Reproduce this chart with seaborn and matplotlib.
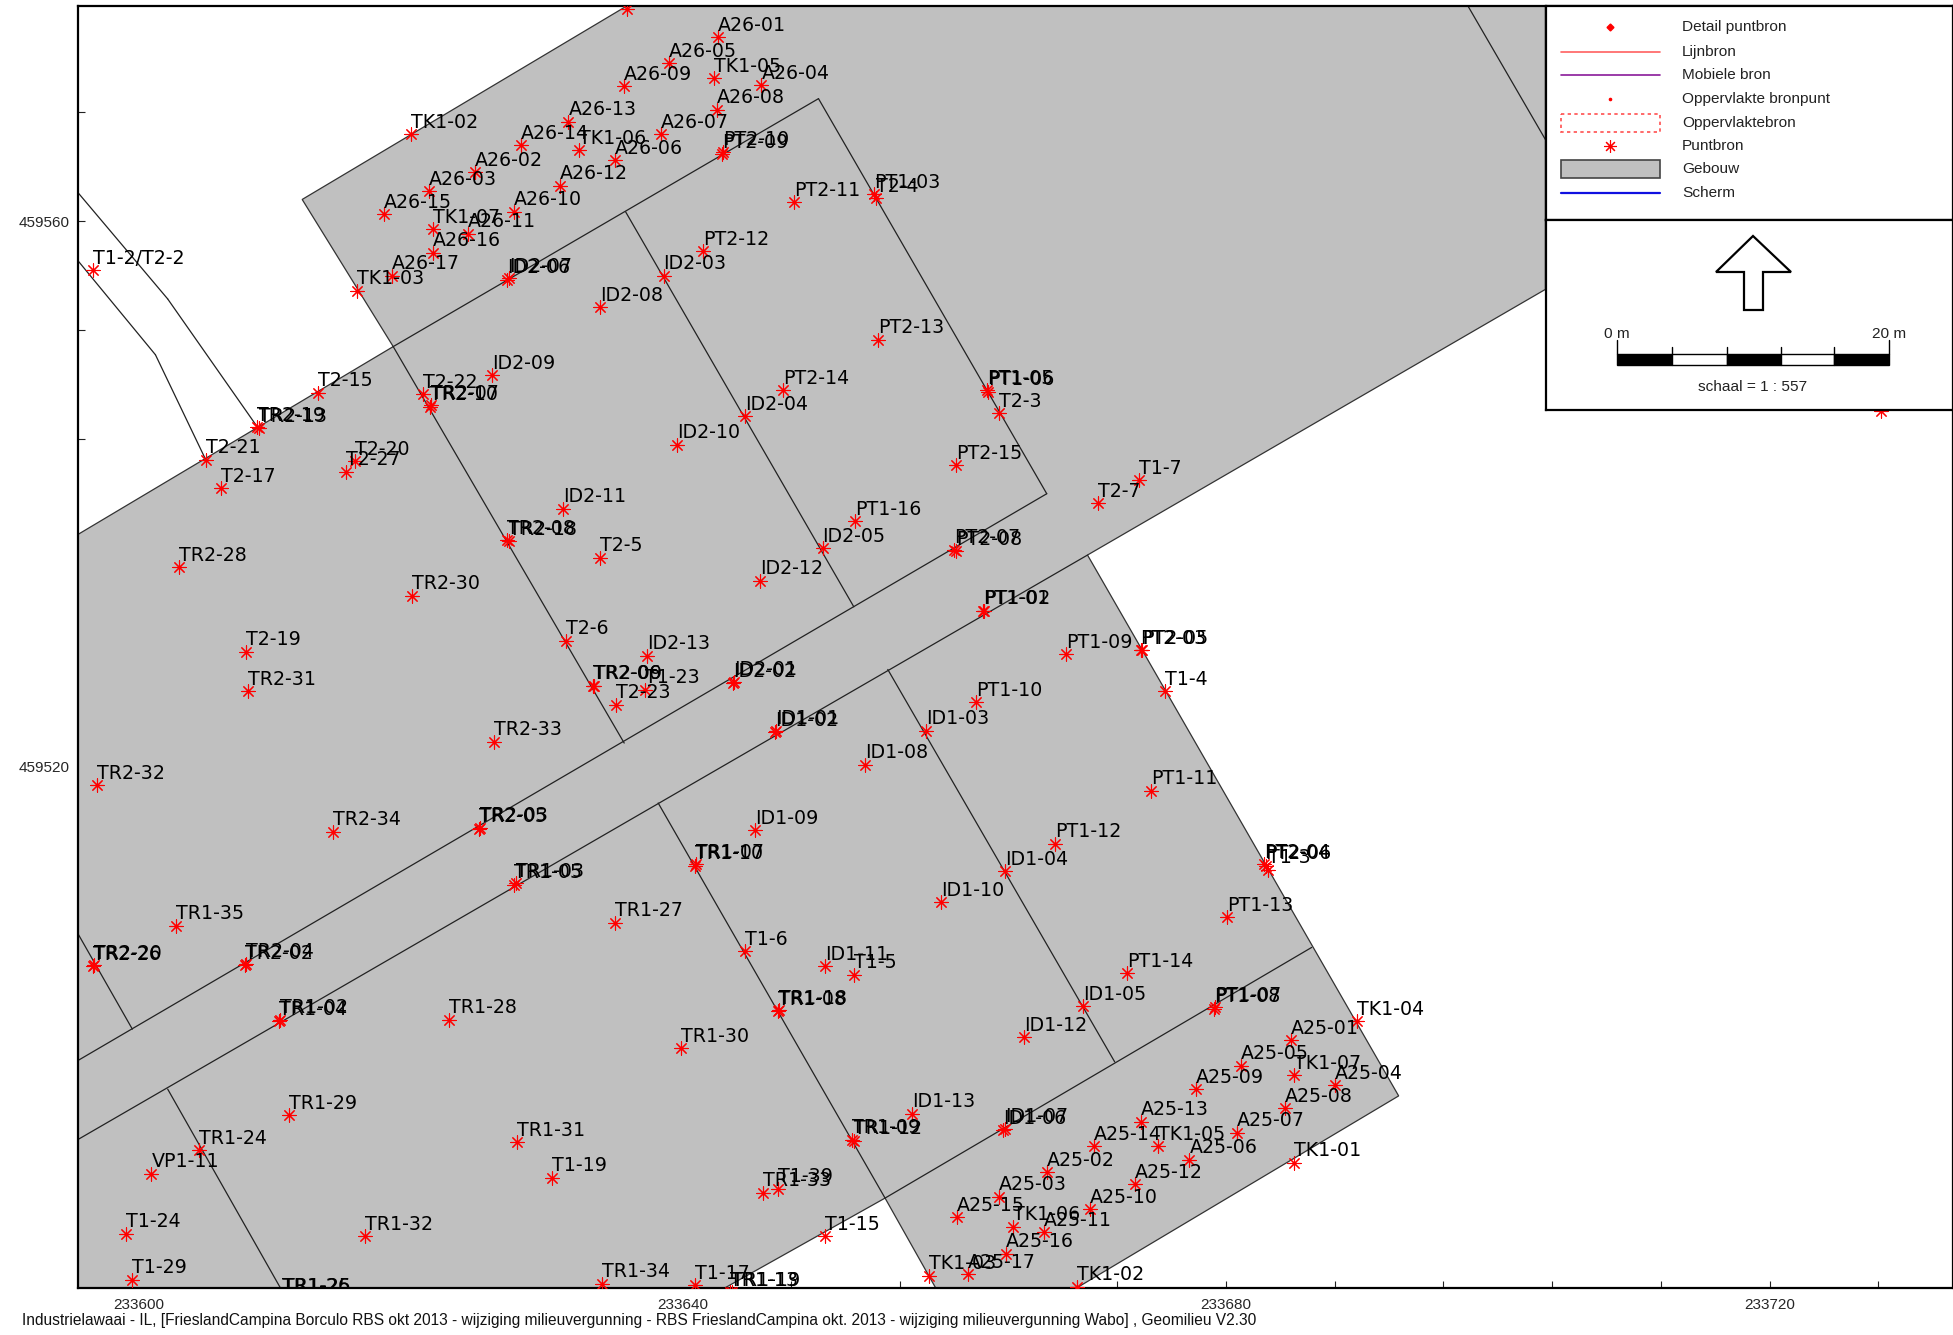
"""Geomilieu style map of the noise sources around the FrieslandCampina buildings."""
import matplotlib
matplotlib.use("Agg")
import matplotlib.pyplot as plt
import pandas as pd
import seaborn as sns
from matplotlib.patches import Polygon, Rectangle

FOOTER = ("Industrielawaai - IL, [FrieslandCampina Borculo RBS okt 2013 - wijziging milieuvergunning - "
          "RBS FrieslandCampina okt. 2013 - wijziging milieuvergunning Wabo] , Geomilieu V2.30")

# source names and map coordinates (m)
a26_names = ["A26-01", "A26-05", "TK1-05", "A26-04", "A26-09", "A26-08", "A26-13", "A26-07", "A26-14", "TK1-06",
             "A26-06", "A26-02", "A26-12", "A26-03", "A26-10", "A26-15", "A26-11", "TK1-07", "A26-16", "A26-17",
             "TK1-03", "TK1-02", "TK1-04"]
a26_x = [233642.6, 233639.0, 233642.3, 233645.8, 233635.7, 233642.5, 233631.6, 233638.4, 233628.1, 233632.4,
         233635.0, 233624.7, 233631.0, 233621.3, 233627.6, 233618.0, 233624.2, 233621.6, 233621.6, 233618.6,
         233616.0, 233620.0, 233635.9]
a26_y = [459573.5, 459571.6, 459570.5, 459570.0, 459569.9, 459568.2, 459567.3, 459566.4, 459565.6, 459565.2,
         459564.5, 459563.6, 459562.6, 459562.2, 459560.7, 459560.5, 459559.1, 459559.4, 459557.7, 459556.0,
         459554.9, 459566.4, 459575.6]

north_names = ["PT2-10", "PT2-09", "PT1-03", "T2-4", "PT2-11", "PT2-12", "ID2-03", "ID2-06", "ID2-07", "ID2-08",
               "PT2-13", "ID2-09", "T2-15", "PT1-05", "PT1-06", "PT2-14", "T2-22", "TR2-10", "TR2-07", "T2-3",
               "ID2-04", "TR2-19", "TR2-13", "ID2-10", "T2-21", "PT2-15", "T2-20", "T2-27", "T2-17", "T1-7",
               "T2-7", "ID2-11", "PT1-16", "TR2-08", "TR2-18", "ID2-05", "PT2-07", "PT2-08", "T2-5", "TR2-28",
               "ID2-12", "TR2-30", "PT1-01", "PT1-02", "T2-6", "T2-19", "PT1-09", "PT2-03", "PT2-05", "ID2-13",
               "TR2-31", "T1-4", "TR2-06", "TR2-09", "T1-23", "T2-23", "ID2-02", "ID2-01", "PT1-10", "T1-2/T2-2",
               "TR2-33", "TR2-32", "TR2-05", "TR2-03", "TR2-34", "TR1-35", "TR2-26", "TR2-20", "TR2-02", "TR2-04"]
north_x = [233643.0, 233642.9, 233654.1, 233654.2, 233648.2, 233641.5, 233638.6, 233627.1, 233627.2, 233633.9,
           233654.4, 233626.0, 233613.2, 233662.4, 233662.5, 233647.4, 233620.9, 233621.4, 233621.5, 233663.3,
           233644.6, 233608.7, 233608.8, 233639.6, 233604.9, 233660.1, 233615.9, 233615.2, 233606.0, 233673.6,
           233670.6, 233631.2, 233652.7, 233627.1, 233627.2, 233650.3, 233660.0, 233660.1, 233633.9, 233602.9,
           233645.7, 233620.1, 233662.1, 233662.2, 233631.4, 233607.9, 233668.2, 233673.7, 233673.8, 233637.4,
           233608.0, 233675.5, 233633.4, 233633.5, 233637.2, 233635.1, 233643.7, 233643.8, 233661.6, 233596.6,
           233626.1, 233596.9, 233625.0, 233625.1, 233614.3, 233602.7, 233596.6, 233596.7, 233607.8, 233607.9]
north_y = [459565.1, 459564.9, 459562.0, 459561.7, 459561.4, 459557.8, 459556.0, 459555.7, 459555.8, 459553.7,
           459551.3, 459548.7, 459547.4, 459547.6, 459547.5, 459547.6, 459547.3, 459546.4, 459546.5, 459545.9,
           459545.7, 459544.9, 459544.8, 459543.6, 459542.5, 459542.1, 459542.4, 459541.6, 459540.4, 459541.0,
           459539.3, 459538.9, 459538.0, 459536.6, 459536.5, 459536.0, 459535.9, 459535.8, 459535.3, 459534.6,
           459533.6, 459532.5, 459531.4, 459531.4, 459529.2, 459528.4, 459528.2, 459528.5, 459528.5, 459528.1,
           459525.5, 459525.5, 459525.9, 459525.9, 459525.6, 459524.5, 459526.1, 459526.2, 459524.7, 459556.4,
           459521.8, 459518.6, 459515.4, 459515.5, 459515.2, 459508.3, 459505.3, 459505.4, 459505.4, 459505.5]

south_names = ["ID1-03", "ID1-02", "ID1-01", "ID1-08", "PT1-11", "ID1-09", "PT1-12", "TR1-10", "TR1-07", "PT2-04",
               "PT2-06", "T1-3", "ID1-04", "TR1-05", "TR1-03", "ID1-10", "PT1-13", "TR1-27", "T1-6", "ID1-11",
               "T1-5", "PT1-14", "ID1-05", "PT1-08", "PT1-07", "TR1-08", "TR1-18", "TK1-04", "TR1-28", "TR1-04",
               "TR1-02", "ID1-12", "TR1-30", "ID1-13", "TR1-29", "ID1-06", "ID1-07", "TR1-09", "TR1-12", "TR1-31",
               "TR1-24", "VP1-11", "T1-19", "T1-39", "TR1-33", "T1-24", "TR1-32", "T1-15", "T1-29", "TR1-34",
               "T1-17", "TR1-13", "TR1-19", "TR1-26", "TR1-25"]
south_x = [233657.9, 233646.8, 233646.9, 233653.4, 233674.5, 233645.3, 233667.4, 233640.9, 233641.0, 233682.8,
           233682.9, 233683.1, 233663.7, 233627.6, 233627.7, 233659.0, 233680.1, 233635.0, 233644.6, 233650.5,
           233652.6, 233672.7, 233669.5, 233679.1, 233679.2, 233647.0, 233647.1, 233689.6, 233622.8, 233610.3,
           233610.4, 233665.1, 233639.9, 233656.9, 233611.0, 233663.6, 233663.7, 233652.5, 233652.6, 233627.8,
           233604.4, 233600.9, 233630.4, 233647.0, 233645.9, 233599.0, 233616.6, 233650.5, 233599.5, 233634.1,
           233640.9, 233643.5, 233643.6, 233610.5, 233610.6]
south_y = [459522.6, 459522.5, 459522.6, 459520.1, 459518.2, 459515.3, 459514.3, 459512.7, 459512.8, 459512.8,
           459512.7, 459512.4, 459512.3, 459511.3, 459511.4, 459510.0, 459508.9, 459508.5, 459506.4, 459505.3,
           459504.7, 459504.8, 459502.4, 459502.2, 459502.3, 459502.0, 459502.1, 459501.3, 459501.4, 459501.3,
           459501.4, 459500.1, 459499.3, 459494.5, 459494.4, 459493.3, 459493.4, 459492.6, 459492.5, 459492.4,
           459491.8, 459490.1, 459489.8, 459489.0, 459488.7, 459485.7, 459485.5, 459485.5, 459482.3, 459482.0,
           459481.9, 459481.4, 459481.4, 459480.9, 459480.9]

a25_names = ["A25-01", "A25-05", "TK1-07", "A25-04", "A25-09", "A25-08", "A25-13", "A25-07", "A25-14", "TK1-05",
             "A25-06", "TK1-01", "A25-02", "A25-12", "A25-03", "A25-10", "A25-15", "TK1-06", "A25-11", "A25-16",
             "TK1-03", "A25-17", "TK1-02", ""]
a25_x = [233684.8, 233681.1, 233685.0, 233688.0, 233677.8, 233684.3, 233673.7, 233680.8, 233670.3, 233675.0,
         233677.3, 233685.0, 233666.8, 233673.3, 233663.3, 233670.0, 233660.2, 233664.3, 233666.6, 233663.8,
         233658.1, 233661.0, 233669.0, 233728.2]
a25_y = [459499.9, 459498.0, 459497.3, 459496.6, 459496.3, 459494.9, 459493.9, 459493.1, 459492.1, 459492.1,
         459491.1, 459490.9, 459490.2, 459489.3, 459488.4, 459487.5, 459486.9, 459486.2, 459485.8, 459484.2,
         459482.6, 459482.7, 459481.8, 459546.1]

# building outline, holes in the site show as white
building_x = [233612.0, 233637.4, 233703.5, 233703.5, 233669.8, 233692.7, 233665.8, 233659.7, 233654.9, 233639.7,
              233594.3, 233594.3, 233618.7]
building_y = [459561.6, 459576.7, 459576.7, 459555.0, 459535.5, 459495.8, 459479.8, 459479.8, 459488.3, 459479.8,
              459479.8, 459536.3, 459550.8]

# inner walls and the two strip lines: x0, x1, y0, y1
wall_x0 = [233618.7, 233650.0, 233635.8, 233666.8, 233669.8, 233618.7, 233655.1, 233638.2, 233686.3, 233595.5,
           233602.1, 233697.8, 233595.5, 233602.1, 233595.5, 233601.2]
wall_x1 = [233650.0, 233666.8, 233652.6, 233595.5, 233595.5, 233635.7, 233671.8, 233654.9, 233654.9, 233599.5,
           233610.4, 233703.5, 233602.1, 233608.7, 233601.2, 233604.9]
wall_y0 = [459550.8, 459569.0, 459560.7, 459540.0, 459535.5, 459550.8, 459527.1, 459517.3, 459506.7, 459507.7,
           459496.3, 459575.8, 459562.1, 459554.3, 459557.1, 459550.2]
wall_y1 = [459569.0, 459540.0, 459531.7, 459498.4, 459492.6, 459521.7, 459498.3, 459488.3, 459488.3, 459500.7,
           459481.7, 459566.0, 459554.3, 459544.9, 459550.2, 459542.5]

x_labelled = [233600, 233640, 233680, 233720]
y_labelled = [459520, 459560]

legend_names = ["Detail puntbron", "Lijnbron", "Mobiele bron", "Oppervlakte bronpunt",
                "Oppervlaktebron", "Puntbron", "Gebouw", "Scherm"]

W, H = 1953, 1335
GREY = "#c0c0c0"
ASTERISK = (8, 2, 0)

sns.set_style("white")
plt.rcParams["font.family"] = ["Liberation Sans", "DejaVu Sans"]

df = pd.concat([
    pd.DataFrame({"name": a26_names, "x": a26_x, "y": a26_y}),
    pd.DataFrame({"name": north_names, "x": north_x, "y": north_y}),
    pd.DataFrame({"name": south_names, "x": south_x, "y": south_y}),
    pd.DataFrame({"name": a25_names, "x": a25_x, "y": a25_y}),
], ignore_index=True)

fig = plt.figure(figsize=(W / 100, H / 100), dpi=100)
ax = fig.add_axes([78 / W, 1 - 1288 / H, (W - 78) / W, (1288 - 6) / H])
ax.set_xlim(233595.5, 233733.5)
ax.set_ylim(459481.7, 459575.8)

ax.add_patch(Polygon(list(zip(building_x, building_y)), closed=True, facecolor=GREY, edgecolor="#333333", lw=0.9))
for x0, x1, y0, y1 in zip(wall_x0, wall_x1, wall_y0, wall_y1):
    ax.plot([x0, x1], [y0, y1], color="#222222", lw=0.9, zorder=2)

sns.scatterplot(data=df, x="x", y="y", ax=ax, marker=ASTERISK, color="red", s=90, linewidth=0.8, zorder=3, legend=False)
for row in df.itertuples():
    ax.annotate(row.name, (row.x, row.y), xytext=(0, 8.6), textcoords="offset points", fontsize=13.7,
                family="DejaVu Sans", va="center", ha="left", color="black", clip_on=True,
                annotation_clip=False, zorder=4)

# ticks every 8 m pointing inwards, only some of them labelled
x_ticks = [233600 + 8 * i for i in range(17)]
y_ticks = [459488 + 8 * i for i in range(11)]
ax.set_xticks(x_ticks, [str(t) if t in x_labelled else "" for t in x_ticks])
ax.set_yticks(y_ticks, [str(t) if t in y_labelled else "" for t in y_ticks])
ax.tick_params(axis="both", direction="in", length=5, width=0.8, color="#222222", labelsize=11, left=True, bottom=True)
ax.tick_params(axis="x", pad=7)
ax.tick_params(axis="y", pad=6)
ax.set_xlabel("")
ax.set_ylabel("")
for spine in ax.spines.values():
    spine.set_linewidth(1.6)
    spine.set_color("black")

fig.text(22 / W, 1 - 1321 / H, FOOTER, fontsize=11.2, va="center", ha="left", color="#111111")

# legend panel
key = fig.add_axes([1546 / W, 1 - 220 / H, (W - 1546) / W, 214 / H])
key.set_xlim(0, 407)
key.set_ylim(214, 0)
key.set_xticks([])
key.set_yticks([])
rows = [21, 46, 69, 93, 117, 140, 163, 187]
for name, r in zip(legend_names, rows):
    key.text(136, r, name, fontsize=11.1, va="center", color="#222222")
key.plot(64, rows[0], "D", color="red", ms=3.5)
key.plot([15, 114], [rows[1]] * 2, color="#ff6060", lw=1.2)
key.plot([15, 114], [rows[2]] * 2, color="#8a1a9a", lw=1.2)
key.plot(64, rows[3], "o", color="red", ms=1.6)
key.add_patch(Rectangle((15, rows[4] - 9), 99, 18, fill=False, edgecolor="#ff5050", ls=(0, (2, 2)), lw=1.2))
key.plot(64, rows[5], marker=ASTERISK, color="red", ms=9, mew=0.8)
key.add_patch(Rectangle((15, rows[6] - 9), 99, 18, facecolor=GREY, edgecolor="#444444", lw=1.2))
key.plot([15, 114], [rows[7]] * 2, color="#1010e0", lw=1.6)

# north arrow and scale bar panel
bar = fig.add_axes([1546 / W, 1 - 410 / H, (W - 1546) / W, 190 / H])
bar.set_xlim(0, 407)
bar.set_ylim(190, 0)
bar.set_xticks([])
bar.set_yticks([])
bar.add_patch(Polygon([(207, 16), (170, 52), (198, 52), (198, 90), (217, 90), (217, 52), (245, 52)],
                      closed=True, facecolor="white", edgecolor="black", lw=1.6))
edges = [71, 126, 181, 235, 288, 343]
for i in range(5):
    bar.add_patch(Rectangle((edges[i], 134), edges[i + 1] - edges[i], 11, facecolor="black" if i % 2 == 0 else "white",
                            edgecolor="black", lw=1))
for e in edges:
    top = 120 if e in (edges[0], edges[-1]) else 127
    bar.plot([e, e], [top, 134], color="black", lw=1)
bar.text(71, 114, "0 m", fontsize=11.1, ha="center", va="center", color="#222222")
bar.text(343, 114, "20 m", fontsize=11.1, ha="center", va="center", color="#222222")
bar.text(207, 167, "schaal = 1 : 557", fontsize=11.1, ha="center", va="center", color="#222222")

for panel in (key, bar):
    panel.set_zorder(10)
    for spine in panel.spines.values():
        spine.set_linewidth(1.6)
        spine.set_color("black")

fig.savefig("out.png", dpi=100)
